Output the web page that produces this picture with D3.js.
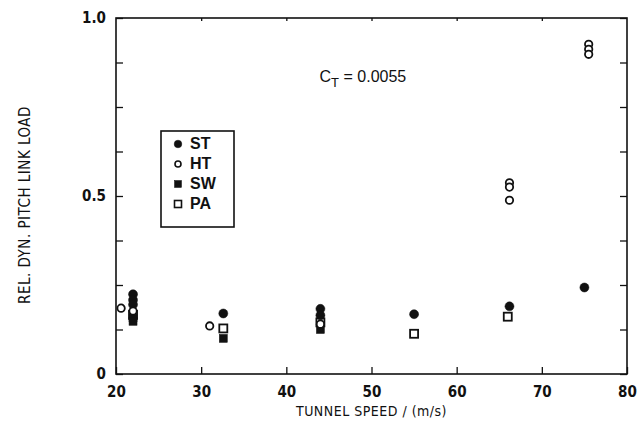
<!DOCTYPE html>
<html>
<head>
<meta charset="utf-8">
<script src="https://cdn.jsdelivr.net/npm/d3@7"></script>
<style>
  body { margin: 0; background: #fff; }
  text { font-family: "Liberation Sans Narrow", "DejaVu Sans Condensed", "DejaVu Sans", sans-serif; font-stretch: condensed; fill: #111; }
</style>
</head>
<body>
<div id="chart"></div>
<script>
// data: tunnel speed (m/s) and relative dynamic pitch link load
const stSpeed = [22, 22, 22, 32.6, 44, 44, 55, 66.2, 75];
const stLoad  = [0.224, 0.208, 0.195, 0.17, 0.183, 0.165, 0.168, 0.19, 0.243];

const htSpeed = [20.6, 22, 31, 44, 66.2, 66.2, 66.2, 75.5, 75.5, 75.5];
const htLoad  = [0.185, 0.177, 0.135, 0.14, 0.537, 0.525, 0.488, 0.926, 0.912, 0.898];

const swSpeed = [22, 22, 32.6, 44];
const swLoad  = [0.158, 0.148, 0.10, 0.125];

const paSpeed = [22, 32.6, 44, 55, 66];
const paLoad  = [0.166, 0.128, 0.145, 0.113, 0.161];

const seriesNames = ["ST", "HT", "SW", "PA"];
const xTicks = [20, 30, 40, 50, 60, 70, 80];
const yTickLabels = [0, 0.5, 1.0];
const yMinor = [0, 0.125, 0.25, 0.375, 0.5, 0.625, 0.75, 0.875, 1.0];

const W = 642, H = 428;
const margin = { top: 18, right: 15, bottom: 54, left: 116 },
    width = W - margin.left - margin.right,
    height = H - margin.top - margin.bottom;

const svg = d3.select("#chart")
    .append("svg")
    .attr("width", W)
    .attr("height", H);

const g = svg.append("g")
    .attr("transform", `translate(${margin.left},${margin.top})`);

const x = d3.scaleLinear().domain([20, 80]).range([0, width]);
const y = d3.scaleLinear().domain([0, 1]).range([height, 0]);

// frame
g.append("rect")
    .attr("x", 0).attr("y", 0)
    .attr("width", width).attr("height", height)
    .attr("fill", "none")
    .attr("stroke", "#111")
    .attr("stroke-width", 1.6);

// bottom axis with inward ticks
g.append("g")
    .attr("transform", `translate(0,${height})`)
    .call(d3.axisBottom(x).tickValues(xTicks).tickSizeInner(-7).tickSizeOuter(0).tickPadding(12).tickFormat(d3.format("d")))
    .call(a => a.select(".domain").remove())
    .call(a => a.selectAll("text").attr("font-size", 15).attr("font-weight", "bold"));

// top ticks
g.append("g")
    .call(d3.axisTop(x).tickValues(xTicks.slice(1, -1)).tickSizeInner(-3).tickSizeOuter(0).tickFormat(""))
    .call(a => a.select(".domain").remove());

// left axis ticks
g.append("g")
    .call(d3.axisLeft(y).tickValues(yMinor).tickSizeInner(-7).tickSizeOuter(0).tickFormat(""))
    .call(a => a.select(".domain").remove());

// left tick labels
g.append("g")
    .call(d3.axisLeft(y).tickValues(yTickLabels).tickSize(0).tickPadding(10)
        .tickFormat(d => d === 0 ? "0" : d3.format(".1f")(d)))
    .call(a => a.select(".domain").remove())
    .call(a => a.selectAll("text").attr("font-size", 15).attr("font-weight", "bold"));

// right axis ticks
g.append("g")
    .attr("transform", `translate(${width},0)`)
    .call(d3.axisRight(y).tickValues(yMinor).tickSizeInner(-7).tickSizeOuter(0).tickFormat(""))
    .call(a => a.select(".domain").remove());

g.selectAll(".tick line").attr("stroke", "#111").attr("stroke-width", 1.3);

// axis titles
svg.append("text")
    .attr("x", margin.left + width / 2)
    .attr("y", 416)
    .attr("text-anchor", "middle")
    .attr("font-size", 14)
    .attr("letter-spacing", 0.5)
    .text("TUNNEL SPEED / (m/s)");

svg.append("text")
    .attr("transform", `translate(30,${205}) rotate(-90)`)
    .attr("text-anchor", "middle")
    .attr("font-size", 15)
    .attr("letter-spacing", 0.5)
    .text("REL. DYN. PITCH LINK LOAD");

// annotation
const ct = g.append("text")
    .attr("x", x(43.9))
    .attr("y", y(0.82))
    .attr("font-size", 16)
    .style("font-family", "'Liberation Sans', Arial, sans-serif")
    .style("font-stretch", "normal");
ct.append("tspan").text("C");
ct.append("tspan").attr("dy", 5).attr("font-size", 13).text("T");
ct.append("tspan").attr("dy", -5).text(" = 0.0055");

// markers
const R = 4;
function drawMarkers(sx, sy, shape, filled) {
    const pts = sx.map((s, i) => ({ s: s, v: sy[i] }));
    const sel = g.append("g").selectAll(shape === "circle" ? "circle" : "rect")
        .data(pts).enter();
    if (shape === "circle") {
        sel.append("circle")
            .attr("cx", d => x(d.s))
            .attr("cy", d => y(d.v))
            .attr("r", filled ? R + 0.5 : R - 0.3)
            .attr("fill", filled ? "#111" : "#fff")
            .attr("stroke", "#111")
            .attr("stroke-width", filled ? 0.5 : 1.8);
    } else {
        sel.append("rect")
            .attr("x", d => x(d.s) - R)
            .attr("y", d => y(d.v) - R)
            .attr("width", 2 * R)
            .attr("height", 2 * R)
            .attr("fill", filled ? "#111" : "#fff")
            .attr("stroke", "#111")
            .attr("stroke-width", filled ? 0.5 : 1.8);
    }
}
drawMarkers(paSpeed, paLoad, "rect", false);
drawMarkers(swSpeed, swLoad, "rect", true);
drawMarkers(stSpeed, stLoad, "circle", true);
drawMarkers(htSpeed, htLoad, "circle", false);

// legend
const legend = svg.append("g").attr("transform", "translate(161,131)");
legend.append("rect")
    .attr("width", 73).attr("height", 96)
    .attr("fill", "#fff")
    .attr("stroke", "#111")
    .attr("stroke-width", 1.6);
const legendStyle = [["circle", true], ["circle", false], ["rect", true], ["rect", false]];
seriesNames.forEach((name, i) => {
    const ly = 13 + i * 20;
    const [shape, filled] = legendStyle[i];
    if (shape === "circle") {
        legend.append("circle").attr("cx", 17).attr("cy", ly).attr("r", filled ? 3.8 : 3)
            .attr("fill", filled ? "#111" : "#fff").attr("stroke", "#111").attr("stroke-width", filled ? 0.5 : 1.6);
    } else {
        legend.append("rect").attr("x", 13.5).attr("y", ly - 3.5).attr("width", 7).attr("height", 7)
            .attr("fill", filled ? "#111" : "#fff").attr("stroke", "#111").attr("stroke-width", filled ? 0.5 : 1.6);
    }
    legend.append("text")
        .attr("x", 29).attr("y", ly + 5)
        .attr("font-size", 16)
        .attr("font-weight", "bold")
        .style("font-family", "'Liberation Sans', Arial, sans-serif")
        .style("font-stretch", "normal")
        .text(name);
});
</script>
</body>
</html>
